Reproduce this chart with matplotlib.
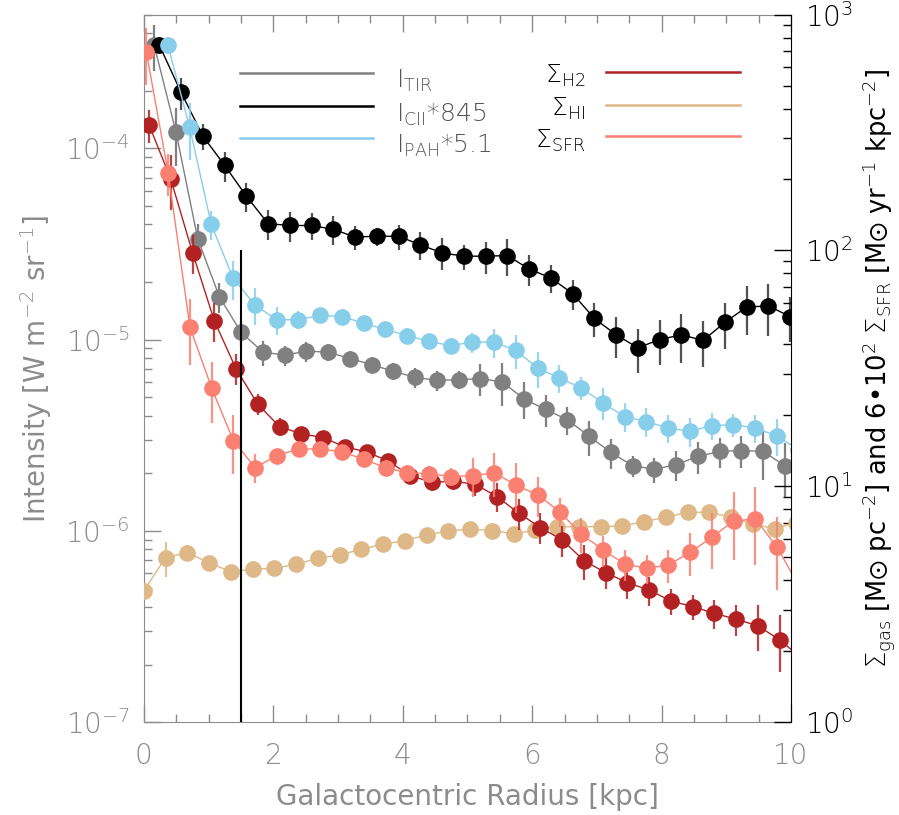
import numpy as np
import matplotlib
matplotlib.use('Agg')
import matplotlib.pyplot as plt
from matplotlib.ticker import MultipleLocator, LogLocator, NullFormatter

plt.rcParams['font.family'] = ['DejaVu Sans']
plt.rcParams['font.weight'] = 'light'
plt.rcParams['mathtext.fontset'] = 'dejavusans'

# radial bins [kpc], each profile is shifted a bit so the points don't overlap
r_bins = np.array([0.000, 0.336, 0.672, 1.008, 1.344, 1.680, 2.016, 2.352, 2.688, 3.024,
                   3.360, 3.696, 4.032, 4.368, 4.704, 5.040, 5.376, 5.712, 6.048, 6.384,
                   6.720, 7.056, 7.392, 7.728, 8.064, 8.400, 8.736, 9.072, 9.408, 9.744,
                   10.080])
shift_hi, shift_sfr, shift_h2 = 0.0, 0.04, 0.08
shift_tir, shift_cii, shift_pah = 0.16, 0.24, 0.37

# intensities [W m-2 sr-1] (CII and PAH already scaled)
i_tir = [3.46e-4, 1.22e-4, 3.37e-5, 1.67e-5, 1.09e-5, 8.6e-6, 8.3e-6, 8.7e-6, 8.6e-6, 7.96e-6,
         7.4e-6, 6.82e-6, 6.35e-6, 6.12e-6, 6.17e-6, 6.25e-6, 6.01e-6, 4.9e-6, 4.31e-6, 3.81e-6,
         3.12e-6, 2.57e-6, 2.19e-6, 2.10e-6, 2.22e-6, 2.45e-6, 2.60e-6, 2.63e-6, 2.60e-6, 2.19e-6]
i_cii_845 = [3.46e-4, 1.96e-4, 1.16e-4, 8.15e-5, 5.62e-5, 4.04e-5, 3.95e-5, 3.95e-5, 3.77e-5, 3.44e-5,
             3.47e-5, 3.47e-5, 3.13e-5, 2.84e-5, 2.73e-5, 2.73e-5, 2.75e-5, 2.34e-5, 2.10e-5, 1.74e-5,
             1.29e-5, 1.06e-5, 9.06e-6, 1.0e-5, 1.06e-5, 9.9e-6, 1.23e-5, 1.48e-5, 1.50e-5, 1.32e-5]
i_pah_51 = [3.46e-4, 1.30e-4, 4.0e-5, 2.10e-5, 1.52e-5, 1.27e-5, 1.27e-5, 1.34e-5, 1.32e-5, 1.22e-5,
            1.13e-5, 1.05e-5, 9.8e-6, 9.3e-6, 9.7e-6, 9.7e-6, 8.8e-6, 7.1e-6, 6.3e-6, 5.6e-6,
            4.67e-6, 3.96e-6, 3.73e-6, 3.45e-6, 3.31e-6, 3.55e-6, 3.59e-6, 3.45e-6, 3.14e-6, 2.65e-6]

# surface densities (SFR scaled by 6e2)
sig_h2 = [341, 201, 98, 50.4, 31.5, 22.3, 17.9, 16.7, 16.1, 14.7,
          14.0, 12.8, 11.1, 10.4, 10.5, 10.2, 9.04, 7.69, 6.68, 5.92,
          4.84, 4.30, 3.90, 3.63, 3.26, 3.09, 2.89, 2.73, 2.56, 2.23, 1.87]
sig_hi = [3.61, 4.98, 5.23, 4.74, 4.34, 4.45, 4.49, 4.67, 4.95, 5.11,
          5.41, 5.68, 5.88, 6.22, 6.46, 6.59, 6.49, 6.28, 6.52, 6.74,
          6.74, 6.74, 6.79, 7.08, 7.39, 7.76, 7.76, 7.39, 6.92, 6.61, 7.01]
sig_sfr = [692, 213, 47.3, 26.1, 15.6, 12.0, 13.5, 14.4, 14.4, 14.0,
           13.0, 12.0, 11.4, 11.3, 11.0, 11.1, 11.4, 10.1, 9.19, 7.80,
           6.26, 5.37, 4.68, 4.49, 4.64, 5.25, 6.08, 7.13, 7.27, 5.51, 3.78]

# relative errors
err_tir = [0.27, 0.34, 0.20, 0.18, 0.15, 0.15, 0.12, 0.12, 0.10, 0.10,
           0.10, 0.10, 0.12, 0.12, 0.11, 0.19, 0.25, 0.22, 0.19, 0.17,
           0.21, 0.18, 0.13, 0.15, 0.18, 0.19, 0.18, 0.19, 0.29, 0.31]
err_cii = [0.10, 0.19, 0.15, 0.18, 0.17, 0.18, 0.18, 0.16, 0.17, 0.14,
           0.11, 0.15, 0.17, 0.19, 0.15, 0.19, 0.22, 0.19, 0.17, 0.18,
           0.20, 0.24, 0.26, 0.26, 0.29, 0.27, 0.27, 0.29, 0.30, 0.26]
err_pah = [0.10, 0.33, 0.17, 0.23, 0.22, 0.17, 0.11, 0.09, 0.09, 0.09,
           0.09, 0.09, 0.09, 0.09, 0.12, 0.17, 0.20, 0.21, 0.17, 0.14,
           0.19, 0.17, 0.17, 0.17, 0.17, 0.16, 0.14, 0.17, 0.22, 0.20]
err_h2 = [0.16, 0.26, 0.19, 0.19, 0.15, 0.10, 0.09, 0.07, 0.07, 0.07,
          0.07, 0.07, 0.08, 0.08, 0.08, 0.11, 0.14, 0.15, 0.15, 0.15,
          0.17, 0.15, 0.15, 0.14, 0.13, 0.12, 0.14, 0.15, 0.22, 0.27, 0.20]
err_hi = [0.06, 0.17, 0.08, 0.06, 0.05, 0.06, 0.05, 0.05, 0.05, 0.05,
          0.05, 0.05, 0.05, 0.05, 0.05, 0.05, 0.05, 0.05, 0.05, 0.05,
          0.05, 0.05, 0.05, 0.05, 0.05, 0.05, 0.05, 0.06, 0.06, 0.06, 0.06]
err_sfr = [0.27, 0.20, 0.31, 0.29, 0.28, 0.14, 0.07, 0.06, 0.06, 0.06,
           0.06, 0.08, 0.08, 0.08, 0.09, 0.19, 0.21, 0.24, 0.19, 0.14,
           0.17, 0.15, 0.15, 0.14, 0.16, 0.21, 0.27, 0.32, 0.36, 0.34, 0.30]

r_cut = 1.5
cut_top = 100

c_tir, c_cii, c_pah = '#808080', '#000000', '#87ceeb'
c_h2, c_hi, c_sfr = '#b22222', '#deb887', '#fa8072'
txt_grey = '#8c8c8c'


def profile(ax, shift, vals, errs, color, ecolor):
    y = np.array(vals)
    r = r_bins[:len(y)] + shift
    ax.errorbar(r, y, yerr=np.array(errs) * y, fmt='none', ecolor=ecolor,
                elinewidth=1.6, capsize=0, alpha=0.85)
    ax.plot(r, y, '-o', color=color, lw=1.0, ms=12, mew=0)


fig = plt.figure(figsize=(8.99, 8.15), dpi=100)
ax = fig.add_axes([0.160, 0.114, 0.720, 0.868])
ax2 = ax.twinx()

profile(ax, shift_tir, i_tir, err_tir, c_tir, '#6a6a6a')
profile(ax, shift_cii, i_cii_845, err_cii, c_cii, '#333333')
profile(ax, shift_pah, i_pah_51, err_pah, c_pah, c_pah)

profile(ax2, shift_hi, sig_hi, err_hi, c_hi, c_hi)
profile(ax2, shift_h2, sig_h2, err_h2, c_h2, c_h2)
profile(ax2, shift_sfr, sig_sfr, err_sfr, c_sfr, c_sfr)

ax2.vlines(r_cut, 1, cut_top, color='black', lw=1.5)

ax.set_xlim(0, 10)
ax.set_yscale('log')
ax.set_ylim(1e-7, 5e-4)
ax2.set_yscale('log')
ax2.set_ylim(1, 1000)

ax.xaxis.set_major_locator(MultipleLocator(2))
ax.xaxis.set_minor_locator(MultipleLocator(0.5))
ax.yaxis.set_minor_locator(LogLocator(subs=np.arange(2, 10)))
ax.yaxis.set_minor_formatter(NullFormatter())
ax2.yaxis.set_minor_locator(LogLocator(subs=np.arange(2, 10)))
ax2.yaxis.set_minor_formatter(NullFormatter())

ax.tick_params(which='both', direction='in', top=True, right=False, colors=txt_grey,
               labelsize=20)
ax.tick_params(which='major', length=12, width=1)
ax.tick_params(which='minor', length=6, width=1)
ax.tick_params(axis='x', pad=14)
ax.tick_params(axis='y', pad=10)
ax2.tick_params(which='both', direction='in', colors='black', labelsize=20, pad=10)
ax2.tick_params(which='major', length=12, width=1)
ax2.tick_params(which='minor', length=6, width=1)

for s in ['left', 'bottom', 'top']:
    ax.spines[s].set_color(txt_grey)
    ax2.spines[s].set_visible(False)
ax.spines['right'].set_visible(False)
ax2.spines['right'].set_color('black')

ax.set_xlabel('Galactocentric Radius [kpc]', fontsize=20, color=txt_grey, labelpad=10)
ax.set_ylabel(r'Intensity [W m$^{-2}$ sr$^{-1}$]', fontsize=20, color=txt_grey, labelpad=8)
ax2.set_ylabel(r'$\Sigma_{\rm gas}$ [M$\odot$ pc$^{-2}$] and 6•10$^{2}$ $\Sigma_{\rm SFR}$ '
               r'[M$\odot$ yr$^{-1}$ kpc$^{-2}$]', fontsize=18.5, color='black', labelpad=5)

# legend drawn by hand like the original
tr = ax.transAxes
for yy, c, lab in [(0.918, c_tir, r'I$_{\rm TIR}$'),
                   (0.871, c_cii, r'I$_{\rm CII}$*845'),
                   (0.826, c_pah, r'I$_{\rm PAH}$*5.1')]:
    ax.plot([0.148, 0.354], [yy, yy], color=c, lw=1.8, transform=tr)
    ax.text(0.389, yy - 0.012, lab, transform=tr, fontsize=18, color='#555555',
            ha='left', va='center')
for yy, c, lab in [(0.919, c_h2, r'$\Sigma_{\rm H2}$'),
                   (0.873, c_hi, r'$\Sigma_{\rm HI}$'),
                   (0.828, c_sfr, r'$\Sigma_{\rm SFR}$')]:
    ax.plot([0.714, 0.921], [yy, yy], color=c, lw=1.8, transform=tr)
    ax.text(0.682, yy - 0.006, lab, transform=tr, fontsize=18, color='black',
            ha='right', va='center')

fig.savefig('out.png', dpi=100)
